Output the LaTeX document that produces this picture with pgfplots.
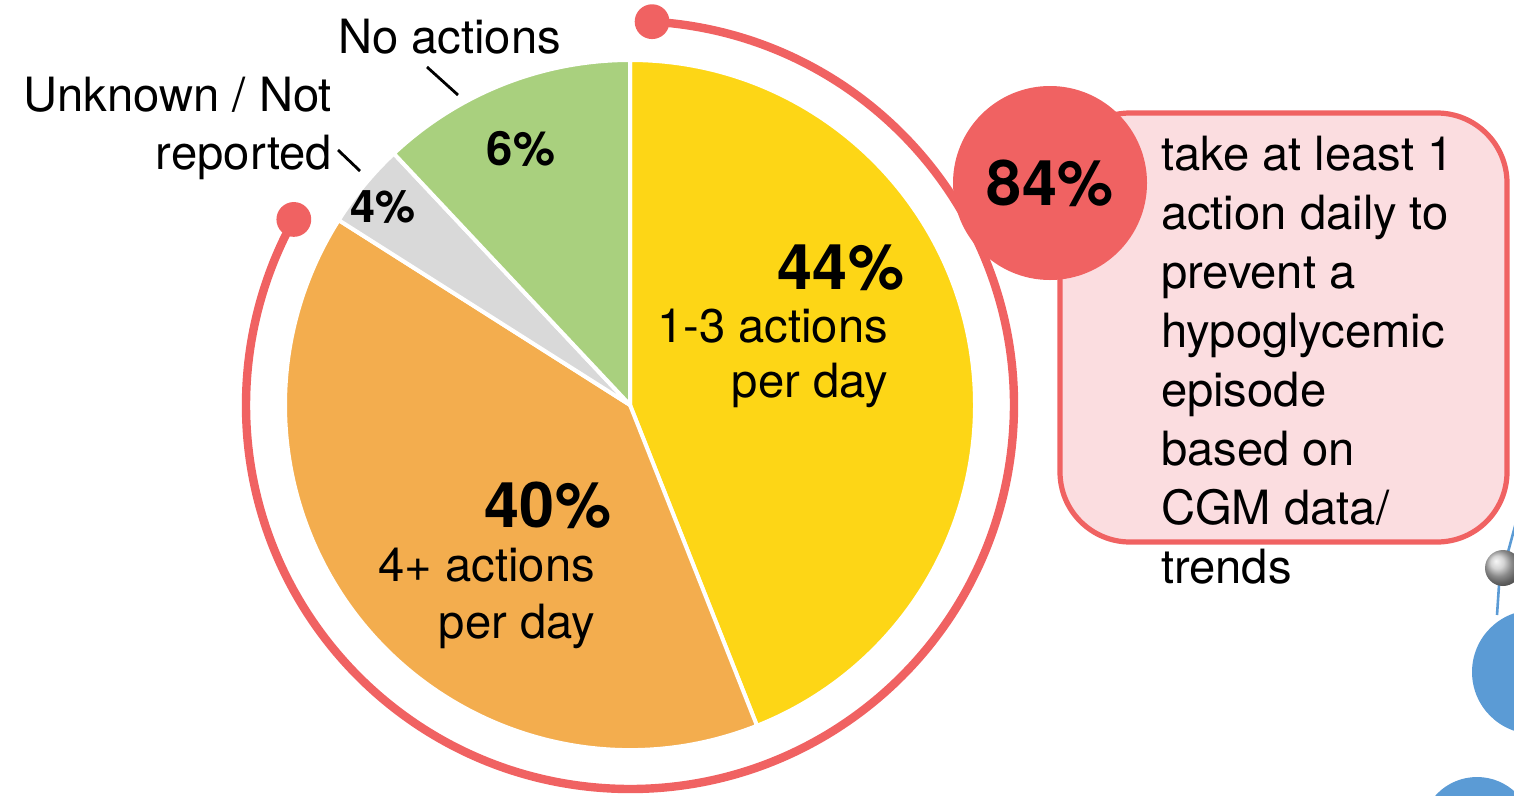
\documentclass[border=0pt]{standalone}
\usepackage{pgfplots}
\pgfplotsset{compat=1.18}
\usepackage{pgfplotstable}
\usepackage{fontspec}
\setmainfont{TeX Gyre Heros}
\usetikzlibrary{shadings}
\definecolor{cyel}{HTML}{FDD616}
\definecolor{corg}{HTML}{F3AD4E}
\definecolor{cgry}{HTML}{D9D9D9}
\definecolor{cgrn}{HTML}{A9D07E}
\definecolor{cred}{HTML}{F06262}
\definecolor{cpink}{HTML}{FBDDE0}
\definecolor{cblue}{HTML}{5B9BD5}
\tikzset{every node/.append style={inner sep=0pt, outer sep=0pt}}
\newcommand\reg{\fontsize{23.6}{28}\selectfont}

\pgfplotstableread{
share
44
40
4
12
}\piedata

\begin{document}
\begin{tikzpicture}
\pgfplotstablegetelem{0}{share}\of\piedata \let\vA\pgfplotsretval
\pgfplotstablegetelem{1}{share}\of\piedata \let\vB\pgfplotsretval
\pgfplotstablegetelem{2}{share}\of\piedata \let\vC\pgfplotsretval
\pgfplotstablegetelem{3}{share}\of\piedata \let\vD\pgfplotsretval
\pgfmathsetmacro\aA{90}
\pgfmathsetmacro\aB{\aA-3.6*\vA}
\pgfmathsetmacro\aC{\aB-3.6*\vB}
\pgfmathsetmacro\aD{\aC-3.6*\vC}
\pgfmathsetmacro\aE{\aD-3.6*\vD}
\def\R{172.5pt}
\useasboundingbox (0,0) rectangle (757pt,-398pt);
\clip (0,0) rectangle (757pt,-398pt);
\begin{axis}[
  at={(0,0)}, anchor=north west,
  width=757pt, height=398pt, scale only axis,
  xmin=0, xmax=1514, ymin=0, ymax=796, y dir=reverse,
  hide axis, clip=false,
]
% pie slices
\fill[cyel, draw=white, line width=2pt, line join=round] (axis cs:630,405) -- ++(\aA:\R) arc[start angle=\aA, end angle=\aB, radius=\R] -- cycle;
\fill[corg, draw=white, line width=2pt, line join=round] (axis cs:630,405) -- ++(\aB:\R) arc[start angle=\aB, end angle=\aC, radius=\R] -- cycle;
\fill[cgry, draw=white, line width=2pt, line join=round] (axis cs:630,405) -- ++(\aC:\R) arc[start angle=\aC, end angle=\aD, radius=\R] -- cycle;
\fill[cgrn, draw=white, line width=2pt, line join=round] (axis cs:630,405) -- ++(\aD:\R) arc[start angle=\aD, end angle=\aE, radius=\R] -- cycle;
% ring
\draw[cred, line width=4.2pt] (axis cs:630,405) ++(86.7:192pt) arc[start angle=86.7, end angle=-208.9, radius=192pt];
\fill[cred] (axis cs:630,405) ++(86.7:192pt) circle (8.7pt);
\fill[cred] (axis cs:630,405) ++(151.1:192pt) circle (8.7pt);
% slice labels
\node[inner sep=0pt, anchor=base east, font=\fontsize{31.5}{36}\selectfont\bfseries] at (axis cs:904,289) {44\%};
\node[inner sep=0pt, anchor=base east, font=\reg] at (axis cs:888,342) {1-3 actions};
\node[inner sep=0pt, anchor=base east, font=\reg] at (axis cs:888,397) {per day};
\node[inner sep=0pt, anchor=base east, font=\fontsize{31.5}{36}\selectfont\bfseries] at (axis cs:611,527) {40\%};
\node[inner sep=0pt, anchor=base east, font=\reg] at (axis cs:595,581) {4+ actions};
\node[inner sep=0pt, anchor=base east, font=\reg] at (axis cs:595,638) {per day};
\node[inner sep=0pt, anchor=base, font=\fontsize{23.6}{28}\selectfont\bfseries] at (axis cs:521,165) {6\%};
\node[inner sep=0pt, anchor=base, font=\fontsize{22.5}{28}\selectfont\bfseries] at (axis cs:383,222) {4\%};
% outer labels
\node[inner sep=0pt, anchor=base west, font=\reg] at (axis cs:338,53) {No actions};
\node[inner sep=0pt, anchor=base east, font=\reg] at (axis cs:332,111) {Unknown / Not};
\node[inner sep=0pt, anchor=base east, font=\reg] at (axis cs:332,169) {reported};
\draw[black, line width=1.4pt] (axis cs:427,67) -- (axis cs:458,95);
\draw[black, line width=1.4pt] (axis cs:338,150) -- (axis cs:360,171);
% callout box
\draw[cred, line width=2.6pt, fill=cpink, rounded corners=35pt] (axis cs:1060,113) rectangle (axis cs:1507,542);
\fill[cred] (axis cs:1050,183) circle (48.5pt);
\node[inner sep=0pt, anchor=base, font=\fontsize{31.5}{36}\selectfont\bfseries] at (axis cs:1050,205) {84\%};
\node[inner sep=0pt, anchor=base west, font=\reg] at (axis cs:1161,170.5) {take at least 1};
\node[inner sep=0pt, anchor=base west, font=\reg] at (axis cs:1161,229.5) {action daily to};
\node[inner sep=0pt, anchor=base west, font=\reg] at (axis cs:1161,288.5) {prevent a};
\node[inner sep=0pt, anchor=base west, font=\reg] at (axis cs:1161,347.5) {hypoglycemic};
\node[inner sep=0pt, anchor=base west, font=\reg] at (axis cs:1161,406.5) {episode};
\node[inner sep=0pt, anchor=base west, font=\reg] at (axis cs:1161,465.5) {based on};
\node[inner sep=0pt, anchor=base west, font=\reg] at (axis cs:1161,524.5) {CGM data/};
\node[inner sep=0pt, anchor=base west, font=\reg] at (axis cs:1161,583.5) {trends};
% partial graphic at right edge
\draw[cblue, line width=1.3pt] (axis cs:1508,552) -- (axis cs:1518,515);
\draw[cblue, line width=1.3pt] (axis cs:1499,585) -- (axis cs:1497,615);
\shade[ball color=gray!45] (axis cs:1503,568) circle (9pt);
\fill[cblue] (axis cs:1534,672) circle (31pt);
\fill[cblue] (axis cs:1477,833) circle (28pt);
\end{axis}
\end{tikzpicture}
\end{document}
